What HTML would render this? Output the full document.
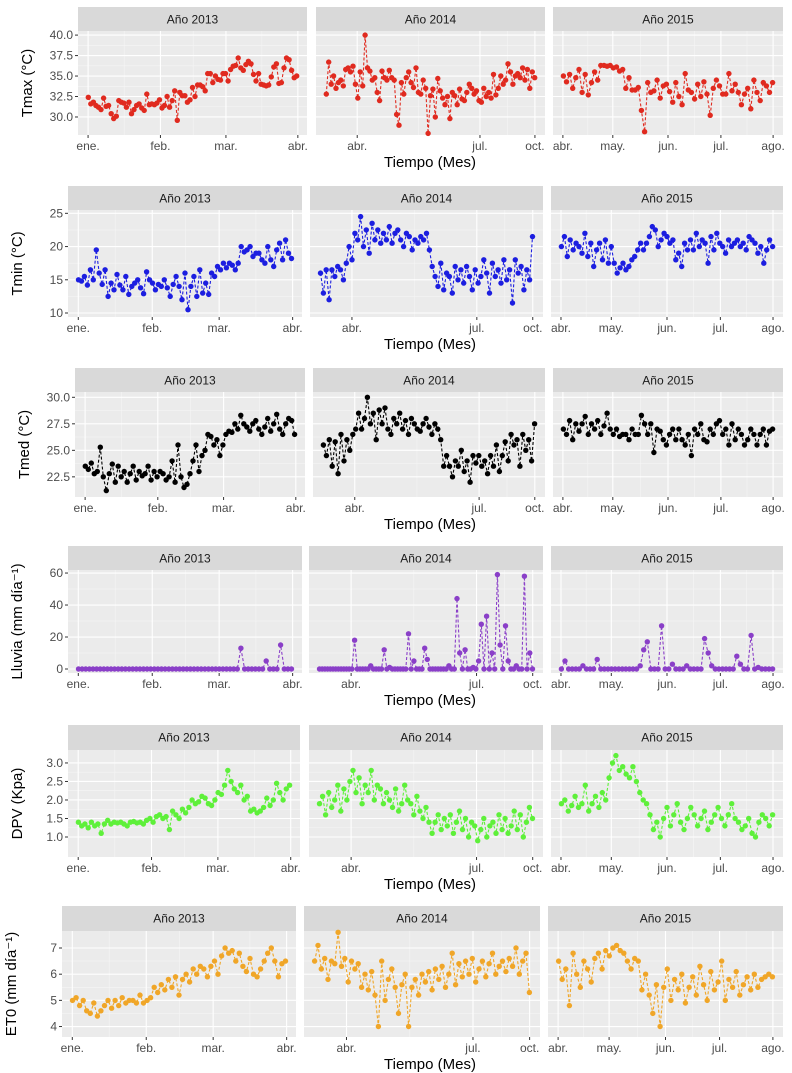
<!DOCTYPE html>
<html><head><meta charset="utf-8">
<style>
body{margin:0;background:#fff;}
svg{display:block;font-family:"Liberation Sans",Arial,sans-serif;}
</style></head>
<body>
<svg id="chart" width="792" height="1073" viewBox="0 0 792 1073"></svg>
<script>
// ---------- DATA ----------
const years = ["Año 2013","Año 2014","Año 2015"];
const monthLabels1 = ["ene.","feb.","mar.","abr."];
const monthLabels2 = ["abr.","jul.","oct."];
const monthLabels3 = ["abr.","may.","jun.","jul.","ago."];
const varNames = ["Tmax (°C)","Tmin (°C)","Tmed (°C)","Lluvia (mm día⁻¹)","DPV (Kpa)","ET0 (mm día⁻¹)"];

const tmax2013 = [32.4,31.6,31.8,31.4,31.2,30.9,32.3,31.3,31.4,30.4,29.8,30.1,32.0,31.8,31.7,31.2,31.8,30.4,30.9,31.4,31.6,31.1,30.8,32.8,31.5,31.6,31.5,31.7,32.1,31.1,31.4,32.5,31.2,32.0,33.2,29.6,33.0,32.6,32.6,31.8,32.1,33.6,32.5,33.9,33.9,33.7,33.2,35.3,35.3,34.2,35.0,34.6,34.5,35.3,35.3,34.4,35.8,36.2,36.3,37.2,36.0,35.7,36.4,36.8,36.5,35.2,34.4,35.3,34.0,33.9,33.8,33.9,34.9,36.1,36.5,34.1,34.2,36.0,37.2,37.0,35.7,34.8,35.0];
const tmax2014 = [32.8,36.7,34.0,35.0,33.5,34.2,34.5,33.8,35.8,36.0,35.5,36.2,34.0,32.3,35.5,33.8,40.0,36.0,35.6,34.5,34.8,33.0,32.0,35.6,34.8,34.5,35.7,34.8,34.5,30.3,29.0,34.2,32.8,34.8,35.5,34.2,33.6,36.0,33.0,32.8,34.5,33.5,28.0,32.6,33.4,30.0,34.7,33.2,32.3,31.5,32.5,29.8,33.0,32.6,31.5,33.4,32.2,32.0,33.0,34.0,33.5,32.8,33.2,32.0,31.8,33.5,32.5,33.0,32.3,35.2,32.7,33.5,35.0,34.0,34.5,36.5,35.5,34.0,35.0,35.3,34.8,36.0,34.5,35.8,33.5,35.5,34.8];
const tmax2015 = [35.0,34.3,35.2,33.5,34.8,35.8,33.0,35.2,32.7,34.2,35.5,34.5,36.3,36.3,36.2,36.3,36.0,36.1,35.6,35.8,33.5,34.8,33.3,33.3,33.6,30.8,28.2,34.2,33.0,33.2,34.5,32.3,33.8,34.0,33.1,31.8,34.2,32.5,31.5,35.3,33.3,33.0,32.2,34.0,32.5,34.3,32.8,30.2,33.5,34.5,33.8,32.8,32.8,35.3,33.2,34.0,33.0,31.5,32.8,33.5,31.0,34.5,33.0,32.0,34.2,33.8,33.0,34.2];

const tmin2013 = [15.0,14.8,15.5,14.2,16.5,15.0,19.5,16.0,14.3,16.5,12.5,14.5,13.5,15.8,14.2,13.5,15.5,12.8,14.0,14.5,15.0,13.8,12.9,16.2,15.0,14.5,13.5,14.3,14.0,15.0,13.8,12.5,14.3,15.5,14.0,12.0,16.0,10.5,14.0,15.5,12.5,16.5,13.0,14.5,12.8,16.0,15.5,17.0,16.5,17.5,16.8,17.5,17.2,16.5,17.5,20.0,19.2,19.5,20.0,18.5,19.0,19.0,18.0,17.5,20.0,18.0,17.0,19.5,20.5,18.0,21.0,19.0,18.2];
const tmin2014 = [16.0,13.0,16.5,12.0,16.5,15.5,17.0,16.5,15.0,17.5,20.0,18.0,22.0,21.0,24.5,20.0,22.5,19.0,23.5,21.0,22.5,20.5,22.0,21.0,23.0,20.5,22.0,22.5,21.0,20.0,22.0,21.5,19.5,21.0,20.5,21.5,21.0,22.0,19.5,17.0,15.5,14.0,17.5,13.5,16.0,15.5,13.0,17.0,15.0,16.5,14.5,17.0,15.5,13.5,16.5,14.5,15.5,18.0,16.0,13.0,17.5,15.5,16.5,14.5,18.0,15.0,16.5,11.5,18.0,16.0,17.0,13.5,16.5,15.0,21.5];
const tmin2015 = [20.0,21.5,18.5,21.0,19.5,20.5,20.0,19.0,22.0,18.5,20.5,17.0,19.5,20.5,18.0,21.0,17.5,20.0,17.5,16.0,16.8,17.5,16.5,17.0,18.0,18.5,19.5,20.5,19.5,20.5,21.5,23.0,22.5,20.0,21.0,22.0,21.5,20.5,21.0,18.0,19.0,17.0,20.5,19.5,21.0,19.5,22.0,20.0,21.0,20.5,17.5,21.5,19.5,22.0,20.5,20.0,19.0,21.0,20.0,20.5,21.0,20.0,20.5,19.5,21.5,21.0,20.5,19.0,20.0,17.5,19.5,21.0,20.0];

const tmed2013 = [23.5,23.2,23.8,22.8,23.0,25.3,22.5,21.2,22.8,23.7,22.0,23.5,22.5,23.0,22.0,22.8,23.5,22.2,23.0,22.6,22.8,23.5,22.2,23.0,22.5,23.0,22.8,22.2,22.5,24.0,22.0,25.5,22.5,21.5,21.8,22.8,24.0,25.5,23.0,24.5,25.0,26.5,26.3,25.5,26.0,24.5,25.5,26.5,26.8,26.7,27.5,27.0,28.3,27.5,27.2,26.8,27.5,27.8,27.0,26.5,27.2,28.0,26.8,27.5,28.4,27.0,26.5,27.5,28.0,27.8,26.5];
const tmed2014 = [25.5,24.5,26.0,23.5,25.8,22.8,26.5,24.0,26.0,25.0,26.5,27.0,28.5,27.0,28.0,30.0,27.5,28.5,26.0,28.8,27.5,29.0,27.0,26.5,28.0,27.5,28.5,27.0,27.8,26.5,28.0,27.5,27.0,26.8,27.5,28.0,27.2,26.5,27.5,27.0,26.0,23.5,24.5,23.5,22.5,24.0,23.5,25.0,23.0,24.0,22.0,24.5,23.8,24.5,23.5,24.0,22.8,24.5,23.5,25.5,23.0,24.5,25.8,24.0,26.5,25.5,26.0,23.5,26.5,25.0,26.0,24.0,27.5];
const tmed2015 = [27.0,26.5,27.8,26.0,27.5,26.8,27.5,28.2,26.5,27.5,27.0,27.8,26.5,27.3,28.5,27.0,26.5,27.0,26.3,26.5,26.5,26.0,27.0,26.5,26.5,28.3,27.5,26.5,27.5,24.8,27.0,26.8,26.0,25.5,26.5,27.0,26.0,27.0,26.0,25.5,26.5,24.5,27.0,26.5,27.5,26.0,25.8,27.0,26.5,27.5,27.8,26.5,27.0,25.5,27.5,26.0,27.0,26.5,25.5,26.0,27.0,26.5,25.5,26.5,27.0,25.5,26.8,27.0];

const rain2013 = [0,0,0,0,0,0,0,0,0,0,0,0,0,0,0,0,0,0,0,0,0,0,0,0,0,0,0,0,0,0,0,0,0,0,0,0,0,0,0,0,0,0,0,0,0,13,0,0,0,0,0,0,5,0,0,0,15,0,0,0];
const rain2014 = [0,0,0,0,0,0,0,0,0,0,0,0,0,18,0,0,0,0,0,2,0,0,0,0,12,0,1,0,0,0,0,0,0,22,0,5,0,0,0,13,6,0,0,0,0,0,0,0,2,0,0,44,10,0,12,0,0,1,0,5,28,0,33,0,10,0,59,15,0,27,5,0,0,2,0,0,58,0,10,0];
const rain2015 = [0,5,0,0,0,0,2,0,0,0,6,0,0,0,0,0,0,0,0,0,0,0,2,12,17,0,0,0,27,0,0,3,0,0,0,2,0,0,0,0,19,10,2,0,0,0,0,0,0,8,3,0,0,21,0,1,0,0,0,0];

const dpv2013 = [1.40,1.30,1.35,1.25,1.40,1.30,1.35,1.10,1.35,1.45,1.35,1.40,1.38,1.40,1.35,1.30,1.40,1.42,1.38,1.40,1.35,1.45,1.50,1.40,1.55,1.60,1.50,1.55,1.20,1.70,1.60,1.50,1.75,1.65,1.80,2.00,1.90,1.95,2.10,2.05,1.90,1.85,2.00,2.20,2.15,2.40,2.80,2.50,2.30,2.20,2.40,2.00,2.10,1.70,1.75,1.65,1.70,1.80,2.05,1.85,2.00,2.45,2.20,2.00,2.30,2.40];
const dpv2014 = [1.90,2.10,1.60,2.20,1.80,2.00,2.40,1.70,2.30,2.00,2.50,2.80,2.20,2.60,1.90,2.40,2.20,2.80,2.00,2.40,2.30,1.90,2.20,2.00,1.80,2.30,1.70,1.90,2.40,2.00,1.90,1.60,2.10,1.70,1.50,1.80,1.40,1.10,1.40,1.60,1.20,1.50,1.30,1.60,1.10,1.40,1.70,1.20,1.50,1.00,1.40,1.30,0.90,1.20,1.50,1.00,1.30,1.40,1.10,1.60,1.20,1.50,1.10,1.30,1.70,1.20,1.60,1.00,1.40,1.80,1.50];
const dpv2015 = [1.90,2.00,1.70,1.85,2.10,1.80,1.90,2.40,1.70,1.90,2.10,1.80,2.20,2.00,2.60,3.00,3.20,2.80,2.90,2.70,2.60,2.90,2.50,2.20,2.00,1.90,1.60,1.20,1.40,1.00,1.50,1.80,1.30,1.60,1.90,1.40,1.20,1.50,1.80,1.60,1.30,1.50,1.70,1.20,1.40,1.60,1.80,1.50,1.30,1.60,1.90,1.50,1.40,1.20,1.30,1.50,1.10,1.00,1.40,1.60,1.50,1.30,1.60];

const et2013 = [5.0,5.1,4.8,5.0,4.6,4.5,4.9,4.4,4.6,4.8,5.0,4.7,5.0,4.8,5.1,4.9,5.0,5.0,4.9,5.2,4.9,5.0,5.1,5.5,5.3,5.6,5.4,5.8,5.5,5.9,5.2,5.8,6.0,5.7,6.2,6.0,6.3,6.2,5.9,6.3,6.5,6.0,6.7,7.0,6.8,6.9,6.5,6.8,6.3,6.1,6.6,6.0,5.9,6.2,6.5,6.8,7.0,6.5,5.9,6.4,6.5];
const et2014 = [6.5,7.1,6.2,6.6,5.8,6.5,6.4,7.6,6.3,6.6,5.7,6.5,6.2,6.4,5.5,6.0,5.4,6.1,5.2,4.0,6.5,5.0,5.8,6.2,5.5,4.5,5.6,6.0,4.0,5.5,5.8,5.2,6.0,5.7,6.1,5.4,6.2,5.8,6.3,5.5,6.0,6.8,5.6,6.4,5.9,6.5,6.0,6.6,5.7,6.2,6.5,5.9,6.4,6.8,6.0,6.3,6.5,6.1,6.6,6.3,7.0,6.0,6.5,6.8,5.3];
const et2015 = [6.5,5.8,6.2,4.8,6.8,6.0,5.5,6.5,6.2,5.7,6.6,6.8,6.2,6.9,6.7,7.0,7.1,6.9,6.8,6.5,6.2,6.6,6.5,5.4,6.0,5.2,4.5,5.6,4.0,5.5,6.2,5.0,5.8,5.4,6.0,4.9,5.5,5.9,5.2,6.3,5.6,5.0,6.1,5.4,5.7,6.5,5.0,5.8,5.5,6.1,5.2,5.6,5.9,5.4,6.0,5.5,5.8,5.9,6.0,5.9];

const yTicks1 = [30,32.5,35,37.5,40];
const yTicks2 = [10,15,20,25];
const yTicks3 = [22.5,25,27.5,30];
const yTicks4 = [0,20,40,60];
const yTicks5 = [1,1.5,2,2.5,3];
const yTicks6 = [4,5,6,7];

// ---------- LAYOUT ----------
const NS = "http://www.w3.org/2000/svg";
const svg = document.getElementById("chart");
function mk(tag, attrs, parent){ const e=document.createElementNS(NS,tag); for(const k in attrs) e.setAttribute(k,attrs[k]); (parent||svg).appendChild(e); return e; }

const rows = [
 {key:"tmax",series:[tmax2013,tmax2014,tmax2015],color:"#e02a1f",strip:7,top:31,bot:135,panels:[[78,307],[316,545],[553,783]],ymin:27.8,ymax:40.5,ticks:yTicks1,dec:1},
 {key:"tmin",series:[tmin2013,tmin2014,tmin2015],color:"#1c1ee0",strip:186,top:210,bot:317,panels:[[68,302],[310,543],[551,783]],ymin:9.4,ymax:25.5,ticks:yTicks2,dec:0},
 {key:"tmed",series:[tmed2013,tmed2014,tmed2015],color:"#000000",strip:368,top:392,bot:497,panels:[[75,305],[313,545],[553,783]],ymin:20.6,ymax:30.5,ticks:yTicks3,dec:1},
 {key:"lluvia",series:[rain2013,rain2014,rain2015],color:"#8a3fc8",strip:546,top:570,bot:673,panels:[[68,302],[309,543],[551,783]],ymin:-2.5,ymax:61.9,ticks:yTicks4,dec:0},
 {key:"dpv",series:[dpv2013,dpv2014,dpv2015],color:"#5ef03a",strip:725,top:750,bot:857,panels:[[68,300],[309,543],[551,783]],ymin:0.46,ymax:3.35,ticks:yTicks5,dec:1},
 {key:"et0",series:[et2013,et2014,et2015],color:"#f0a628",strip:906,top:931,bot:1037,panels:[[62,296],[304,540],[548,783]],ymin:3.6,ymax:7.65,ticks:yTicks6,dec:0}
];
const tickFracs = [[0.044,0.36,0.646,0.96],[0.18,0.716,0.956],[0.043,0.26,0.5,0.73,0.957]];
const tickLabels = [monthLabels1,monthLabels2,monthLabels3];

rows.forEach((r,ri)=>{
  const g = mk("g",{});
  
  
  const yS = v => r.bot - (v - r.ymin)/(r.ymax - r.ymin)*(r.bot - r.top);
  r.panels.forEach((p,pi)=>{
    const [x0,x1]=p, w=x1-x0;
    const pg = mk("g",{},g);
    
    
    const strip = mk("rect",{x:x0,y:r.strip,width:w,height:r.top-r.strip,fill:"#d9d9d9"},pg);
    
    
    const st = mk("text",{x:x0+w/2,y:r.strip+16.5,"text-anchor":"middle","font-size":"12","fill":"#1a1a1a"},pg);
    st.textContent = years[pi];
    
    
    const bg = mk("rect",{x:x0,y:r.top,width:w,height:r.bot-r.top,fill:"#ebebeb"},pg);
    
    
    const xS = f => x0 + f*w;
    const tf = tickFracs[pi];
    for(let i=0;i<r.ticks.length-1;i++){
      const y=yS((r.ticks[i]+r.ticks[i+1])/2);
      mk("line",{x1:x0,x2:x1,y1:y,y2:y,stroke:"#f5f5f5","stroke-width":0.6},pg);
    }
    for(let i=0;i<tf.length-1;i++){
      const x=xS((tf[i]+tf[i+1])/2);
      mk("line",{x1:x,x2:x,y1:r.top,y2:r.bot,stroke:"#f5f5f5","stroke-width":0.6},pg);
    }
    r.ticks.forEach(t=>{ const y=yS(t); mk("line",{x1:x0,x2:x1,y1:y,y2:y,stroke:"#fff","stroke-width":1.1},pg); });
    tf.forEach((f,i)=>{
      const x=xS(f);
      mk("line",{x1:x,x2:x,y1:r.top,y2:r.bot,stroke:"#fff","stroke-width":1.1},pg);
      mk("line",{x1:x,x2:x,y1:r.bot,y2:r.bot+3,stroke:"#333","stroke-width":1},pg);
      const tl = mk("text",{x:x,y:r.bot+15,"text-anchor":"middle","font-size":"12","fill":"#4d4d4d"},pg);
      tl.textContent = tickLabels[pi][i];
      
      
    });
    if(pi===0){
      r.ticks.forEach(t=>{
        const y=yS(t);
        mk("line",{x1:x0-3,x2:x0,y1:y,y2:y,stroke:"#333","stroke-width":1},pg);
        const yl = mk("text",{x:x0-5,y:y+4,"text-anchor":"end","font-size":"12","fill":"#4d4d4d"},pg);
        yl.textContent = t.toFixed(r.dec);
        
        
      });
    }
    const vals = r.series[pi], n = vals.length;
    const xi = i => xS(0.045 + 0.91*i/(n-1));
    let d="";
    vals.forEach((v,i)=>{ d += (i?"L":"M")+xi(i).toFixed(1)+","+yS(v).toFixed(1); });
    const line = mk("path",{d:d,fill:"none",stroke:r.color,"stroke-width":1.1,"stroke-dasharray":"3,2"},pg);
    
    
    vals.forEach((v,i)=>{
      const c = mk("circle",{cx:xi(i).toFixed(1),cy:yS(v).toFixed(1),r:2.7,fill:r.color},pg);
      
      
    });
  });
  const cy=(r.top+r.bot)/2, lx=r.panels[0][0]-46;
  const yt = mk("text",{x:lx,y:cy,transform:`rotate(-90 ${lx} ${cy})`,"text-anchor":"middle","font-size":"15","fill":"#000"},g);
  yt.textContent = varNames[ri];
  
  
  const xt = mk("text",{x:430,y:r.bot+32,"text-anchor":"middle","font-size":"15","fill":"#000"},g);
  xt.textContent = "Tiempo (Mes)";
  
  
});
</script>
</body></html>
